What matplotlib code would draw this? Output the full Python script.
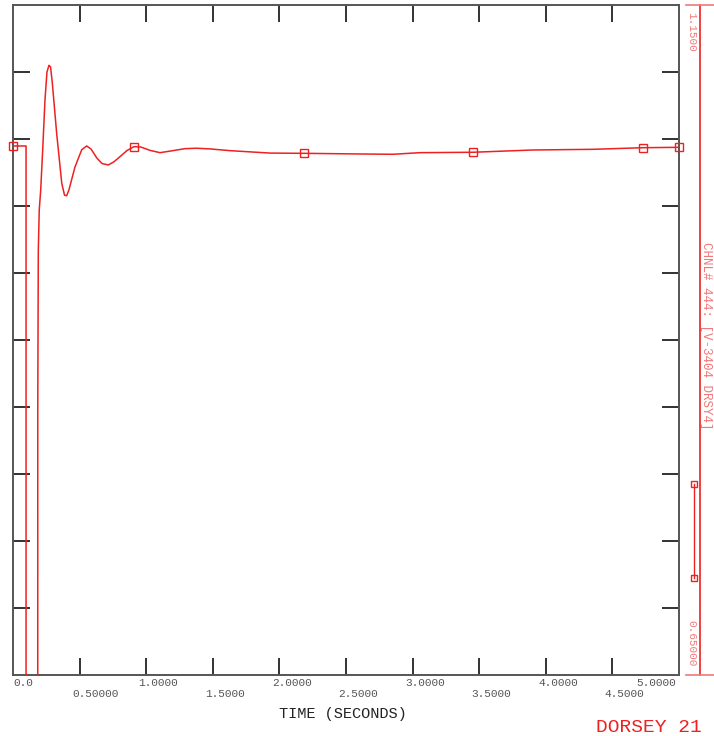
import matplotlib
matplotlib.use("Agg")
import matplotlib.pyplot as plt
from matplotlib.lines import Line2D
from matplotlib.transforms import offset_copy

# ---- data ----
time_s = [0.0, 0.098, 0.098, 0.185, 0.186, 0.190, 0.197, 0.208, 0.223, 0.240,
          0.255, 0.270, 0.282, 0.295, 0.328, 0.366, 0.387, 0.403, 0.420, 0.465,
          0.516, 0.553, 0.586, 0.628, 0.668, 0.715, 0.758, 0.803, 0.856, 0.908,
          0.960, 1.029, 1.104, 1.194, 1.291, 1.379, 1.479, 1.629, 1.929, 2.185,
          2.628, 2.853, 3.056, 3.453, 3.904, 4.354, 4.730, 5.0]
voltage = [1.0448, 1.0448, 0.0, 0.0, 0.85, 0.967, 0.997, 1.012, 1.042, 1.079,
           1.100, 1.105, 1.1037, 1.092, 1.054, 1.017, 1.008, 1.0077, 1.012, 1.029,
           1.042, 1.0448, 1.0425, 1.036, 1.0317, 1.0306, 1.033, 1.0368, 1.0414, 1.0443,
           1.0440, 1.0415, 1.0398, 1.0412, 1.0428, 1.0431, 1.0426, 1.0413, 1.0395, 1.0393,
           1.0388, 1.0386, 1.0398, 1.0401, 1.0418, 1.0423, 1.0435, 1.0438]
marker_idx = [0, 29, 39, 43, 46, 47]

x_ticks = [0.0, 0.5, 1.0, 1.5, 2.0, 2.5, 3.0, 3.5, 4.0, 4.5, 5.0]
x_tick_labels = ["0.0", "0.50000", "1.0000", "1.5000", "2.0000", "2.5000",
                 "3.0000", "3.5000", "4.0000", "4.5000", "5.0000"]
y_ticks = [0.70, 0.75, 0.80, 0.85, 0.90, 0.95, 1.00, 1.05, 1.10]
y_min, y_max = 0.65, 1.15
y_min_label, y_max_label = "0.65000", "1.1500"
channel_label = "CHNL# 444: [V-3404 DRSY4]"
x_label = "TIME (SECONDS)"
title_text = "DORSEY 21"

W, H = 714, 736
fig = plt.figure(figsize=(W / 100, H / 100), dpi=100)
L, R, T, B = 13, 679, 5, 675
ax = fig.add_axes([L / W, 1 - B / H, (R - L) / W, (B - T) / H])
ax.set_xlim(0, 5.0)
ax.set_ylim(y_min, y_max)

mono = "Liberation Mono"
red = "#ee2020"
lred = "#f07878"

ax.plot(time_s, voltage, color=red, lw=1.1, clip_on=True, zorder=3)
ax.plot([time_s[i] for i in marker_idx], [voltage[i] for i in marker_idx],
        ls="none", marker="s", ms=5.5, mfc="none", mec=red, mew=1.0,
        clip_on=False, zorder=4)

for s in ax.spines.values():
    s.set_color("#555555")
    s.set_linewidth(1.4)

ax.set_xticks(x_ticks[1:-1])
ax.set_yticks(y_ticks)
ax.tick_params(axis="both", direction="in", length=12.2, width=1.3,
               color="#222222", top=True, right=True, bottom=True, left=True,
               labelbottom=False, labelleft=False)

# x tick labels (staggered, decimal point over tick)
xt = ax.get_xaxis_transform()
for i, (v, lab) in enumerate(zip(x_ticks, x_tick_labels)):
    row_y = -8 / (B - T) if i % 2 == 0 else -19 / (B - T)
    if i == 0:
        ax.text(v, row_y, lab, transform=xt, ha="left", va="center",
                fontfamily=mono, fontsize=8, color="#555555")
    elif i == len(x_ticks) - 1:
        ax.text(v, row_y, lab, transform=offset_copy(xt, fig=fig, x=-2.2, units="points"),
                ha="right", va="center", fontfamily=mono, fontsize=8, color="#555555")
    else:
        ax.text(v, row_y, lab, transform=offset_copy(xt, fig=fig, x=-5.5, units="points"),
                ha="left", va="center", fontfamily=mono, fontsize=8, color="#555555")

fig.text(343 / W, 1 - 714 / H, x_label, ha="center", va="center",
         fontfamily=mono, fontsize=11, color="#222222")

# right-side scale bar
def px(x, y):
    return (x / W, 1 - y / H)

fig.add_artist(Line2D([700 / W, 700 / W], [1 - 5 / H, 1 - 675 / H], color=red, lw=1.2))
fig.add_artist(Line2D([686 / W, 714 / W], [1 - 5 / H, 1 - 5 / H], color=lred, lw=1.2))
fig.add_artist(Line2D([686 / W, 714 / W], [1 - 675 / H, 1 - 675 / H], color=lred, lw=1.2))
fig.text(*px(691, 12), y_max_label, rotation=-90, ha="center", va="top",
         fontfamily=mono, fontsize=8, color=lred)
fig.text(*px(691, 666), y_min_label, rotation=-90, ha="center", va="bottom",
         fontfamily=mono, fontsize=8, color=lred)
fig.text(*px(706, 336), channel_label, rotation=-90, ha="center", va="center",
         fontfamily=mono, fontsize=9, color=lred)

# legend sample
fig.add_artist(Line2D([694 / W, 694 / W], [1 - 484 / H, 1 - 578 / H], color=red, lw=1.0))
fig.add_artist(Line2D([694 / W, 694 / W], [1 - 484 / H, 1 - 578 / H], ls="none",
                      marker="s", ms=5, mfc="none", mec=red, mew=1.0))

fig.text(*px(596, 719), title_text, ha="left", va="top",
         fontfamily=mono, fontsize=14, color=red)

fig.savefig("out.png", dpi=100)
